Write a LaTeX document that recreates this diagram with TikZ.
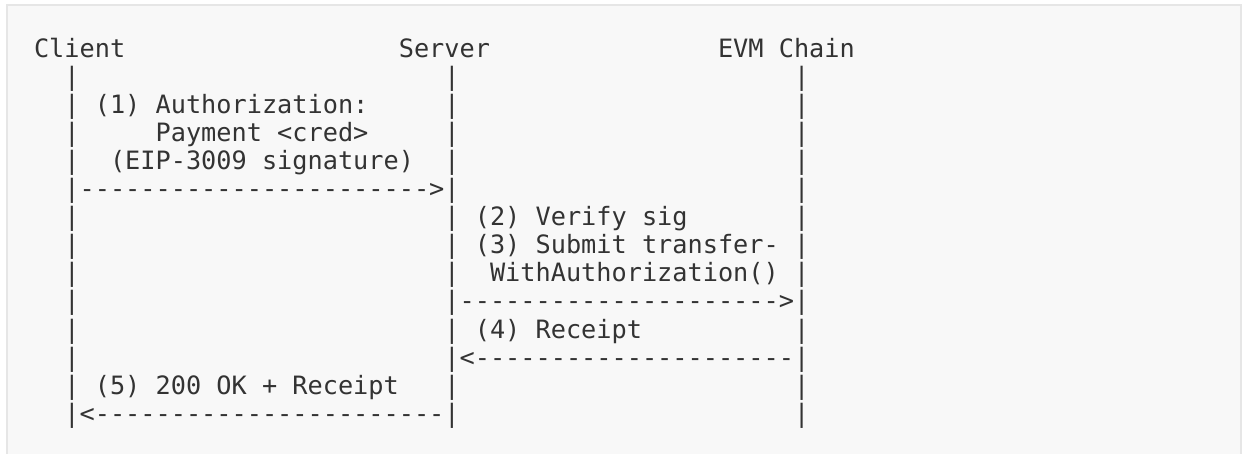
\documentclass[tikz,border=0pt]{standalone}
\usepackage{fontspec}
\setmonofont{DejaVu Sans Mono}
\definecolor{bg}{HTML}{F8F8F8}
\definecolor{bd}{HTML}{E6E6E6}
\definecolor{ink}{HTML}{333333}
\begin{document}
\begin{tikzpicture}[x=15.2pt,y=-28.1pt,
  txt/.style={anchor=base west,inner sep=0pt,outer sep=0pt,text=ink,
    font=\ttfamily\fontsize{25.25pt}{28pt}\selectfont}]
\useasboundingbox (-34pt,57pt) rectangle (1208pt,-396pt);
\draw[bd,fill=bg,line width=1.2pt] (-27pt,52pt) rectangle (1207pt,-430pt);
% participants
\node[txt] (client) at (0,0) {Client};
\node[txt] (server) at (24,0) {Server};
\node[txt] (chain)  at (45,0) {EVM Chain};
% lifelines
\foreach \r in {1,2,3,4,6,7,8,9,10,11,12}
  \node[txt] (cl\r) at (2,\r) {|};
\foreach \r in {1,2,3,4,6,7,8,10,12}
  \node[txt] (sl\r) at (27,\r) {|};
\foreach \r in {1,2,3,4,5,6,7,8,10,12,13}
  \node[txt] (el\r) at (50,\r) {|};
% messages
\node[txt] (m1a) at (4,2) {(1) Authorization:};
\node[txt] (m1b) at (8,3) {Payment <cred>};
\node[txt] (m1c) at (5,4) {(EIP-3009 signature)};
\node[txt] (a1)  at (2,5) {|----------------------->|};
\node[txt] (m2)  at (29,6) {(2) Verify sig};
\node[txt] (m3a) at (29,7) {(3) Submit transfer-};
\node[txt] (m3b) at (30,8) {WithAuthorization()};
\node[txt] (a2)  at (27,9) {|--------------------->|};
\node[txt] (m4)  at (29,10) {(4) Receipt};
\node[txt] (a3)  at (27,11) {|<---------------------|};
\node[txt] (m5)  at (4,12) {(5) 200 OK + Receipt};
\node[txt] (a4)  at (2,13) {|<-----------------------|};
\end{tikzpicture}
\end{document}
